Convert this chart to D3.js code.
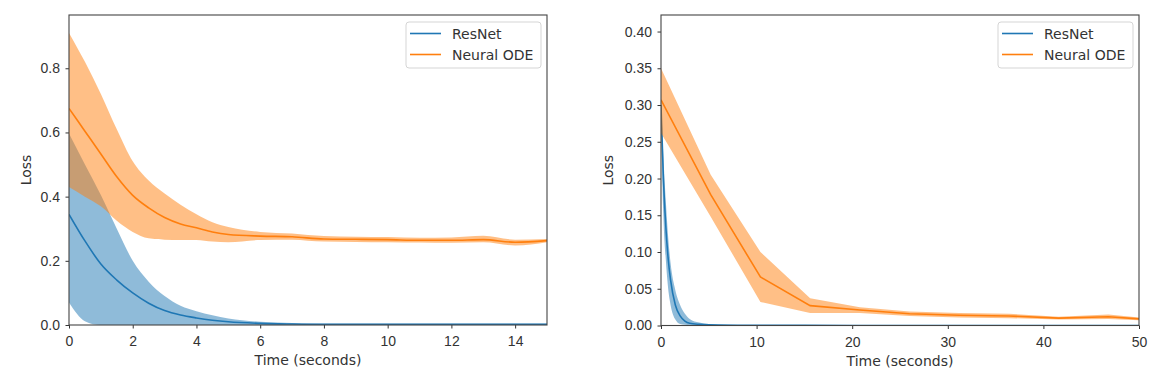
<!DOCTYPE html>
<html>
<head>
<meta charset="utf-8">
<script src="https://cdn.jsdelivr.net/npm/d3@7"></script>
<style>
  body { margin: 0; background: #fff; }
  svg { display: block; font-family: "DejaVu Sans", sans-serif; }
  .axis path, .axis line { stroke: #333; }
  .axis text { fill: #333; font-size: 14px; }
</style>
</head>
<body>
<svg class="chart" width="1168" height="388"></svg>
<script>
// left panel: loss vs time, 0..15 s
var leftTime = [0, 0.5, 1, 1.5, 2, 2.5, 3, 3.5, 4, 4.5, 5, 6, 7, 8, 9, 10, 11, 12, 13, 14, 15];
var leftResnetMean  = [0.345, 0.262, 0.19, 0.14, 0.10, 0.068, 0.045, 0.031, 0.022, 0.015, 0.010, 0.005, 0.003, 0.002, 0.002, 0.002, 0.002, 0.002, 0.002, 0.002, 0.002];
var leftResnetUpper = [0.597, 0.50, 0.405, 0.30, 0.20, 0.135, 0.09, 0.06, 0.043, 0.03, 0.02, 0.01, 0.006, 0.004, 0.004, 0.004, 0.004, 0.004, 0.004, 0.004, 0.004];
var leftResnetLower = [0.07, 0.012, 0, 0, 0, 0, 0, 0, 0, 0, 0, 0, 0, 0, 0, 0, 0, 0, 0, 0, 0];
var leftOdeMean  = [0.675, 0.604, 0.533, 0.462, 0.404, 0.365, 0.335, 0.315, 0.303, 0.29, 0.282, 0.277, 0.275, 0.268, 0.267, 0.266, 0.264, 0.264, 0.266, 0.258, 0.263];
var leftOdeUpper = [0.91, 0.82, 0.72, 0.61, 0.51, 0.45, 0.41, 0.375, 0.345, 0.32, 0.305, 0.29, 0.285, 0.277, 0.275, 0.274, 0.272, 0.273, 0.278, 0.266, 0.268];
var leftOdeLower = [0.43, 0.40, 0.37, 0.325, 0.29, 0.27, 0.266, 0.265, 0.265, 0.26, 0.258, 0.265, 0.266, 0.26, 0.259, 0.258, 0.257, 0.256, 0.258, 0.248, 0.258];

// right panel: loss vs time, 0..50 s
var rightResnetTime  = [0, 0.25, 0.5, 0.75, 1, 1.5, 2, 2.5, 3, 4, 5, 6, 8, 10, 20, 30, 40, 50];
var rightResnetMean  = [0.30, 0.20, 0.135, 0.091, 0.062, 0.028, 0.013, 0.006, 0.003, 0.0015, 0.0008, 0.0005, 0.0003, 0.0002, 0.0001, 0.0001, 0.0001, 0.0001];
var rightResnetUpper = [0.31, 0.23, 0.17, 0.12, 0.085, 0.048, 0.028, 0.016, 0.009, 0.004, 0.002, 0.001, 0.0006, 0.0003, 0.0002, 0.0002, 0.0002, 0.0002];
var rightResnetLower = [0.29, 0.15, 0.09, 0.05, 0.028, 0.008, 0.002, 0.001, 0.0005, 0.0002, 0.0001, 0, 0, 0, 0, 0, 0, 0];
var rightOdeTime  = [0, 5.2, 10.4, 15.6, 20.8, 26, 31.2, 36.4, 41.6, 46.8, 50];
var rightOdeMean  = [0.307, 0.178, 0.066, 0.027, 0.021, 0.016, 0.014, 0.013, 0.010, 0.012, 0.009];
var rightOdeUpper = [0.35, 0.205, 0.10, 0.037, 0.025, 0.019, 0.017, 0.016, 0.012, 0.015, 0.011];
var rightOdeLower = [0.262, 0.148, 0.032, 0.017, 0.017, 0.013, 0.011, 0.010, 0.008, 0.009, 0.007];

var leftXTicks = [0, 2, 4, 6, 8, 10, 12, 14];
var leftYTicks = [0, 0.2, 0.4, 0.6, 0.8];
var rightXTicks = [0, 10, 20, 30, 40, 50];
var rightYTicks = [0, 0.05, 0.10, 0.15, 0.20, 0.25, 0.30, 0.35, 0.40];

var seriesNames = ["ResNet", "Neural ODE"];
var seriesColors = ["#1f77b4", "#ff7f0e"];

var svg = d3.select(".chart");

function zip(t, mean, lo, hi) {
  return t.map(function(d, i) { return {t: d, m: mean[i], lo: lo[i], hi: hi[i]}; });
}

function drawPanel(p) {
  var width = p.width, height = p.height;

  var g = svg.append("g")
      .attr("transform", "translate(" + p.left + "," + p.top + ")");

  var x = d3.scaleLinear().domain(p.xDomain).range([0, width]);
  var y = d3.scaleLinear().domain(p.yDomain).range([height, 0]);

  g.append("clipPath")
      .attr("id", p.id + "-clip")
    .append("rect")
      .attr("width", width)
      .attr("height", height);

  var plot = g.append("g").attr("clip-path", "url(#" + p.id + "-clip)");

  p.series.forEach(function(s, i) {
    var area = d3.area()
        .curve(s.curve)
        .x(function(d) { return x(d.t); })
        .y0(function(d) { return y(d.lo); })
        .y1(function(d) { return y(d.hi); });
    var line = d3.line()
        .curve(s.curve)
        .x(function(d) { return x(d.t); })
        .y(function(d) { return y(d.m); });

    plot.append("path")
        .datum(s.data)
        .attr("d", area)
        .attr("fill", seriesColors[i])
        .attr("fill-opacity", 0.5);

    plot.append("path")
        .datum(s.data)
        .attr("d", line)
        .attr("fill", "none")
        .attr("stroke", seriesColors[i])
        .attr("stroke-width", 1.6);
  });

  g.append("g")
      .attr("class", "axis")
      .attr("transform", "translate(0," + height + ")")
      .call(d3.axisBottom(x).tickValues(p.xTicks).tickSize(3.5).tickPadding(8).tickSizeOuter(0)
        .tickFormat(d3.format("d")));

  g.append("g")
      .attr("class", "axis")
      .call(d3.axisLeft(y).tickValues(p.yTicks).tickSize(3.5).tickPadding(5.5).tickSizeOuter(0)
        .tickFormat(d3.format(p.yFormat)));

  g.selectAll(".axis .domain").remove();

  // frame
  g.append("rect")
      .attr("width", width)
      .attr("height", height)
      .attr("fill", "none")
      .attr("stroke", "#444")
      .attr("stroke-width", 1.1);

  g.append("text")
      .attr("x", width / 2)
      .attr("y", height + 40)
      .attr("text-anchor", "middle")
      .attr("fill", "#333")
      .style("font-size", "14px")
      .text("Time (seconds)");

  g.append("text")
      .attr("transform", "translate(" + p.yLabelX + "," + (height / 2) + ") rotate(-90)")
      .attr("text-anchor", "middle")
      .attr("fill", "#333")
      .style("font-size", "14px")
      .text("Loss");

  // legend
  var legend = g.append("g")
      .attr("transform", "translate(" + (width - 141) + ",7)");

  legend.append("rect")
      .attr("width", 135)
      .attr("height", 46)
      .attr("rx", 3)
      .attr("fill", "#fff")
      .attr("fill-opacity", 0.8)
      .attr("stroke", "#d5d5d5");

  seriesNames.forEach(function(name, i) {
    var ly = 11.5 + i * 21;
    legend.append("line")
        .attr("x1", 4).attr("x2", 35)
        .attr("y1", ly).attr("y2", ly)
        .attr("stroke", seriesColors[i])
        .attr("stroke-width", 1.6);
    legend.append("text")
        .attr("x", 46)
        .attr("y", ly + 5)
        .attr("fill", "#333")
        .style("font-size", "14px")
        .text(name);
  });
}

drawPanel({
  id: "left", left: 69, top: 15, width: 478, height: 310,
  xDomain: [0, 15], yDomain: [0, 0.966],
  xTicks: leftXTicks, yTicks: leftYTicks, yFormat: ".1f", yLabelX: -38,
  series: [
    {data: zip(leftTime, leftResnetMean, leftResnetLower, leftResnetUpper), curve: d3.curveMonotoneX},
    {data: zip(leftTime, leftOdeMean, leftOdeLower, leftOdeUpper), curve: d3.curveMonotoneX}
  ]
});

drawPanel({
  id: "right", left: 661, top: 15, width: 478, height: 310.5,
  xDomain: [0, 50], yDomain: [0, 0.4225],
  xTicks: rightXTicks, yTicks: rightYTicks, yFormat: ".2f", yLabelX: -48.5,
  series: [
    {data: zip(rightResnetTime, rightResnetMean, rightResnetLower, rightResnetUpper), curve: d3.curveMonotoneX},
    {data: zip(rightOdeTime, rightOdeMean, rightOdeLower, rightOdeUpper), curve: d3.curveLinear}
  ]
});
</script>
</body>
</html>
